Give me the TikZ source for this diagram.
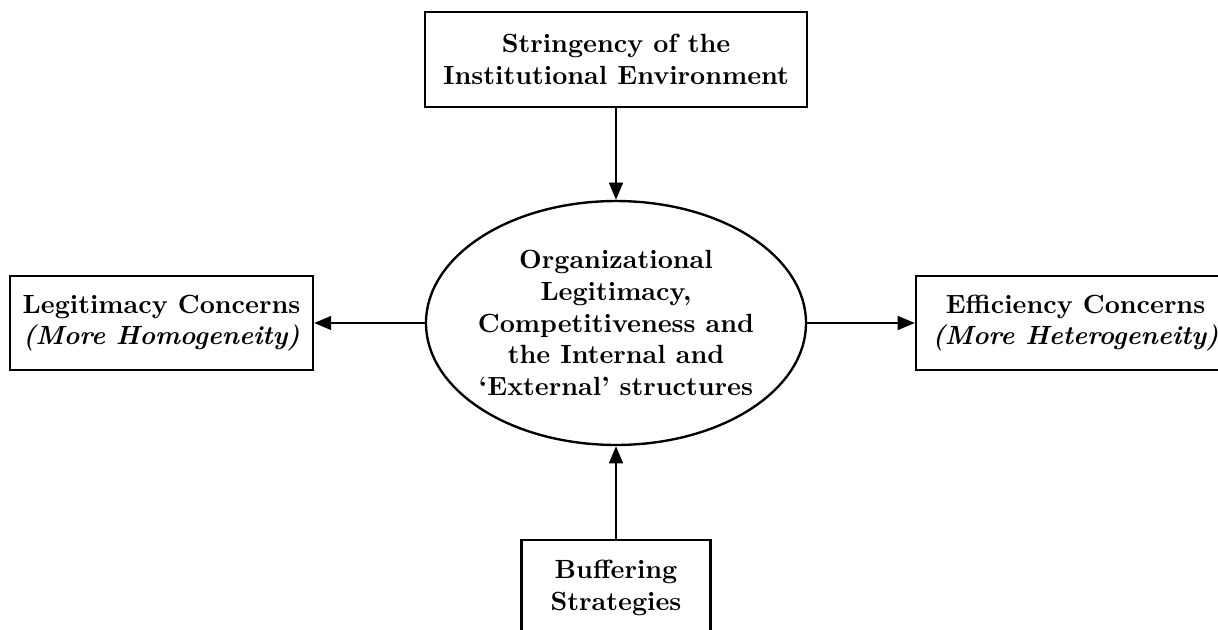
\documentclass[tikz,border=0pt]{standalone}
\usetikzlibrary{shapes.geometric,arrows.meta}

\tikzset{every picture/.style={line width=0.9pt}}
\tikzset{
  block/.style={draw, rectangle, align=center, font=\bfseries, inner sep=0pt},
  core/.style={draw, ellipse, align=center, font=\bfseries, inner xsep=-1.5pt, inner ysep=0pt,
    minimum width=144.4pt, minimum height=92.7pt},
  tip/.style={-{Triangle[length=6.5pt,width=5.2pt]}}
}

\begin{document}
\begin{tikzpicture}[x=0.38pt,y=0.38pt,yscale=-1,xscale=1]
%set diagram area: 1218 x 630
\useasboundingbox (0,0) rectangle (1218,630);
\clip (0,0) rectangle (1218,630);

%Shape: Ellipse
\node [core] (org) at (616,323) {Organizational\\ Legitimacy,\\ Competitiveness and\\ the Internal and\\ `External' structures};
%Shape: Rectangle
\node [block, minimum width=145.2pt, minimum height=36.1pt] (env) at (616,59.5) {Stringency of the\\ Institutional Environment};
%Shape: Rectangle
\node [block, minimum width=115.1pt, minimum height=35.7pt] (legit) at (161.5,323) {Legitimacy Concerns\\ \textit{(More Homogeneity)}};
%Shape: Rectangle
\node [block, minimum width=121.2pt, minimum height=35.7pt] (effic) at (1075.5,323) {Efficiency Concerns\\ \textit{(More Heterogeneity)}};
%Shape: Rectangle
\node [block, minimum width=71.8pt, minimum height=36.5pt] (buffer) at (616,588) {Buffering\\ Strategies};

%Straight Lines
\draw [tip] (env) -- (org);
\draw [tip] (buffer) -- (org);
\draw [tip] (org) -- (legit);
\draw [tip] (org) -- (effic);

\end{tikzpicture}
\end{document}
